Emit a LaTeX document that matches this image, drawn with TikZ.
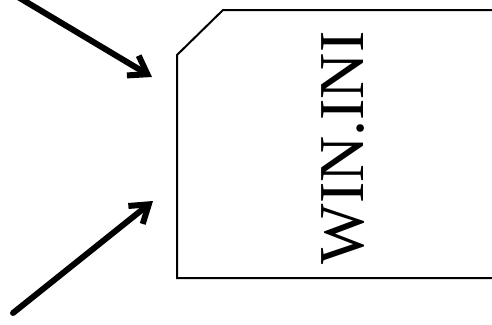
\documentclass[tikz,border=0pt]{standalone}
\usepackage{fontspec}
\setmainfont{Liberation Serif}
\usetikzlibrary{arrows.meta}
\begin{document}
\begin{tikzpicture}[
  x=1pt, y=-1pt,
  bigarr/.style={-{Straight Barb[length=17pt, width=23pt]}, line width=6pt, line cap=round, draw=black},
  card/.style={draw=black, line width=2pt, line join=miter},
  fname/.style={font=\fontsize{64}{64}\selectfont, rotate=90, inner sep=0pt}
]
\useasboundingbox (0,0) rectangle (492,324);
% ================= FILE CARD =================
\draw[card] (495,10) -- (223,10) -- (177,55) -- (177,278) -- (495,278);
\node[fname] (ini) at (343,148) {WIN.INI};
% ================= ARROWS =================
\coordinate (inA) at (152,77);
\coordinate (inB) at (153,201);
\coordinate (srcA) at (18,-3);
\coordinate (srcB) at (13,313);
\draw[bigarr] (srcA) -- (inA);
\draw[bigarr] (srcB) -- (inB);
\end{tikzpicture}
\end{document}
